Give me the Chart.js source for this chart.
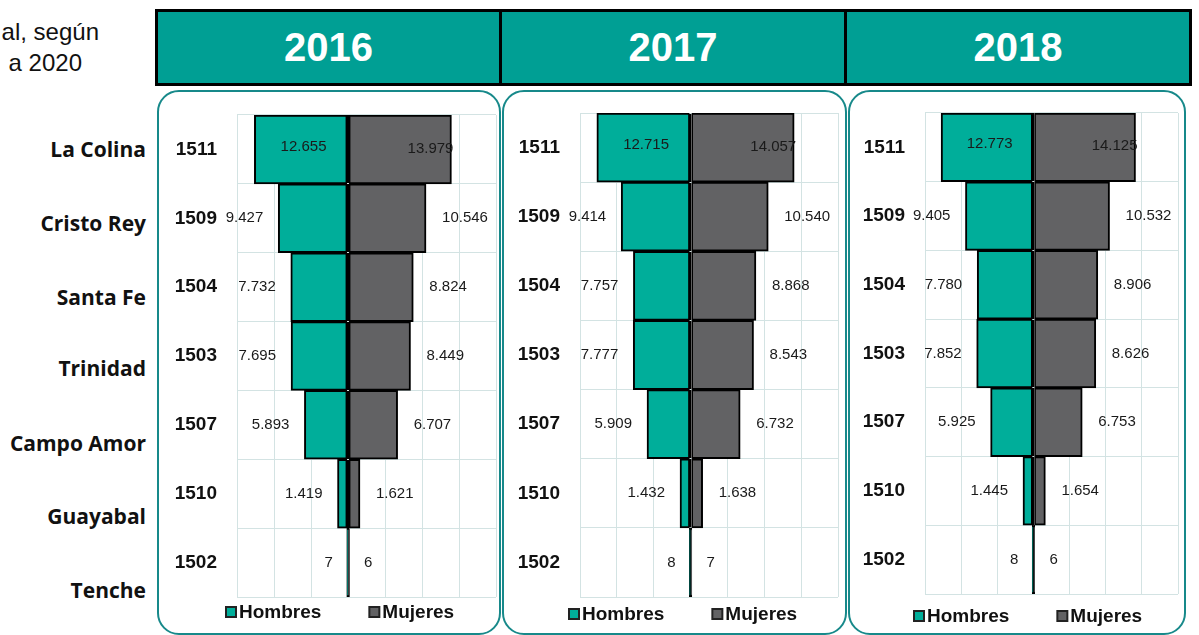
<!DOCTYPE html>
<html>
<head>
<meta charset="utf-8">
<script src="https://cdn.jsdelivr.net/npm/chart.js@4.4.1/dist/chart.umd.min.js"></script>
<style>
  html, body { margin:0; padding:0; background:#fff; }
  body { width:1199px; height:635px; overflow:hidden; position:relative; font-family:"Liberation Sans", Arial, sans-serif; }
  .title { position:absolute; font-size:24px; color:#111; white-space:nowrap; text-align:right; line-height:28px; }
  .header { position:absolute; left:155px; top:9px; width:1037px; height:77px; box-sizing:border-box; border:3px solid #000; background:#009f94; }
  .hcell { position:absolute; top:0; height:100%; display:flex; align-items:center; justify-content:center; color:#fff; font-weight:bold; font-size:40px; }
  .hdiv { position:absolute; top:0; height:100%; width:3px; background:#000; }
  .panel { position:absolute; top:90px; height:545px; box-sizing:border-box; border:2.5px solid #17898a; border-radius:22px; }
  .name { position:absolute; right:1053px; font-family:"Open Sans", sans-serif; font-weight:bold; font-size:21px; color:#111; white-space:nowrap; line-height:28px; text-align:right; }
  canvas { position:absolute; }
</style>
</head>
<body>
<div class="title" style="right:1100px; top:18px;">al, según</div>
<div class="title" style="right:1117px; top:49px;">a 2020</div>

<div class="header" id="header"></div>
<div id="names"></div>
<div id="panels"></div>

<script>
// ---- data ----
const codes = ['1511', '1509', '1504', '1503', '1507', '1510', '1502'];
const places = ['La Colina', 'Cristo Rey', 'Santa Fe', 'Trinidad', 'Campo Amor', 'Guayabal', 'Tenche'];
const years = ['2016', '2017', '2018'];
const seriesNames = ['Hombres', 'Mujeres'];
const hombres2016 = [12655, 9427, 7732, 7695, 5893, 1419, 7];
const mujeres2016 = [13979, 10546, 8824, 8449, 6707, 1621, 6];
const hombres2017 = [12715, 9414, 7757, 7777, 5909, 1432, 8];
const mujeres2017 = [14057, 10540, 8868, 8543, 6732, 1638, 7];
const hombres2018 = [12773, 9405, 7780, 7852, 5925, 1445, 8];
const mujeres2018 = [14125, 10532, 8906, 8626, 6753, 1654, 6];
const axisMin = -15000, axisMax = 20000, axisStep = 5000;

const hombresByYear = [hombres2016, hombres2017, hombres2018];
const mujeresByYear = [mujeres2016, mujeres2017, mujeres2018];

// ---- styles / layout ----
const COL_H = '#00ae9a';
const COL_M = '#626264';
const GRID = '#d3e3e3';
const FONT = '"Liberation Sans", Arial, sans-serif';

const panels = [
  { x0:157, w:344, plotLeft:237, plotRight:496, plotTop:115, plotBottom:597, legendY:612 },
  { x0:502, w:345, plotLeft:580, plotRight:838, plotTop:113, plotBottom:597, legendY:614 },
  { x0:848, w:338, plotLeft:925, plotRight:1178, plotTop:113, plotBottom:594, legendY:616 }
];
const canvasTop = 90, canvasH = 545;

// header
const header = document.getElementById('header');
const cells = [[0,341],[344,686],[689,1031]];
years.forEach((y,i)=>{
  const c = document.createElement('div');
  c.className = 'hcell';
  c.style.left = cells[i][0] + 'px';
  c.style.width = (cells[i][1]-cells[i][0]) + 'px';
  c.textContent = y;
  header.appendChild(c);
});
[341, 686].forEach(x=>{
  const d = document.createElement('div');
  d.className = 'hdiv'; d.style.left = x + 'px';
  header.appendChild(d);
});

// place names
const nameY = [149, 223, 297, 368, 443, 516, 590];
const namesDiv = document.getElementById('names');
places.forEach((p,i)=>{
  const d = document.createElement('div');
  d.className = 'name';
  d.style.top = (nameY[i]-14) + 'px';
  d.textContent = p;
  namesDiv.appendChild(d);
});

function fmt(v){ return String(Math.abs(v)).replace(/\B(?=(\d{3})+(?!\d))/g, '.'); }

const labelPlugin = {
  id:'valueLabels',
  afterDatasetsDraw(chart){
    const ctx = chart.ctx;
    ctx.save();
    ctx.font = '15px ' + FONT;
    ctx.fillStyle = '#1a1a1a';
    ctx.textBaseline = 'middle';
    chart.data.datasets.forEach((ds, di)=>{
      const meta = chart.getDatasetMeta(di);
      meta.data.forEach((bar, i)=>{
        const txt = fmt(ds.data[i]);
        let x, y = bar.y;
        if (di === 0) {
          if (i === 0) { ctx.textAlign = 'center'; x = (bar.x + bar.base)/2 + 3; y -= 3; }
          else { ctx.textAlign = 'right'; x = bar.x - 15; }
        } else {
          if (i === 0) { ctx.textAlign = 'right'; x = bar.x + 2; y -= 1; }
          else { ctx.textAlign = 'left'; x = bar.x + 16; }
        }
        ctx.fillText(txt, x, y);
      });
    });
    ctx.restore();
  }
};

const legendPlugin = {
  id:'pyrLegend',
  afterDraw(chart){
    const ctx = chart.ctx;
    const ca = chart.chartArea;
    const y = chart.options.plugins.pyrLegend.y;
    ctx.save();
    ctx.font = 'bold 19px ' + FONT;
    ctx.textBaseline = 'middle';
    ctx.textAlign = 'left';
    let x = ca.left - 12;
    chart.data.datasets.forEach(ds=>{
      ctx.fillStyle = ds.backgroundColor;
      ctx.fillRect(x+1, y-5, 10, 10);
      ctx.strokeStyle = '#222';
      ctx.lineWidth = 2;
      ctx.strokeRect(x+1, y-5, 10, 10);
      ctx.fillStyle = '#111';
      ctx.fillText(ds.label, x+14, y+1);
      x += 14 + ctx.measureText(ds.label).width + 47;
    });
    ctx.restore();
  }
};

const panelsDiv = document.getElementById('panels');
panels.forEach((p, k)=>{
  const pd = document.createElement('div');
  pd.className = 'panel';
  pd.style.left = p.x0 + 'px';
  pd.style.width = p.w + 'px';
  panelsDiv.appendChild(pd);

  const cv = document.createElement('canvas');
  cv.width = p.w; cv.height = canvasH;
  cv.style.left = p.x0 + 'px'; cv.style.top = canvasTop + 'px';
  cv.style.width = p.w + 'px'; cv.style.height = canvasH + 'px';
  panelsDiv.appendChild(cv);

  const yAxisW = p.plotLeft - p.x0;
  new Chart(cv.getContext('2d'), {
    type:'bar',
    data:{
      labels: codes,
      datasets:[
        { label: seriesNames[0], data: hombresByYear[k].map(v=>-v), backgroundColor: COL_H,
          borderColor:'#000', borderWidth:{left:2, top:2, bottom:2, right:1.5}, borderSkipped:false,
          barPercentage:1, categoryPercentage:1 },
        { label: seriesNames[1], data: mujeresByYear[k], backgroundColor: COL_M,
          borderColor:'#000', borderWidth:{left:1.5, top:2, bottom:2, right:2}, borderSkipped:false,
          barPercentage:1, categoryPercentage:1 }
      ]
    },
    options:{
      indexAxis:'y',
      responsive:false,
      maintainAspectRatio:false,
      animation:false,
      devicePixelRatio:1,
      layout:{ padding:{
        left: 0,
        right: p.x0 + p.w - p.plotRight,
        top: p.plotTop - canvasTop,
        bottom: canvasTop + canvasH - p.plotBottom
      }},
      plugins:{ legend:{display:false}, tooltip:{enabled:false}, pyrLegend:{ y: p.legendY - canvasTop } },
      scales:{
        x:{
          min:axisMin, max:axisMax, stacked:true,
          ticks:{ display:false, stepSize:axisStep },
          grid:{ drawTicks:false,
                 color: c => (c.tick && c.tick.value === 0) ? '#000' : GRID,
                 lineWidth: c => (c.tick && c.tick.value === 0) ? 2.5 : 1 },
          border:{ display:false },
          afterFit(s){ s.height = 0; s.paddingLeft = 0; s.paddingRight = 0; }
        },
        y:{
          stacked:true,
          ticks:{ font:{ family:FONT, size:19, weight:'bold' }, color:'#111', padding:20 },
          grid:{ drawTicks:false, color:GRID, offset:true },
          border:{ display:false },
          afterFit(s){ s.width = yAxisW; s.paddingTop = 0; s.paddingBottom = 0; }
        }
      }
    },
    plugins:[labelPlugin, legendPlugin]
  });
});
</script>
</body>
</html>
